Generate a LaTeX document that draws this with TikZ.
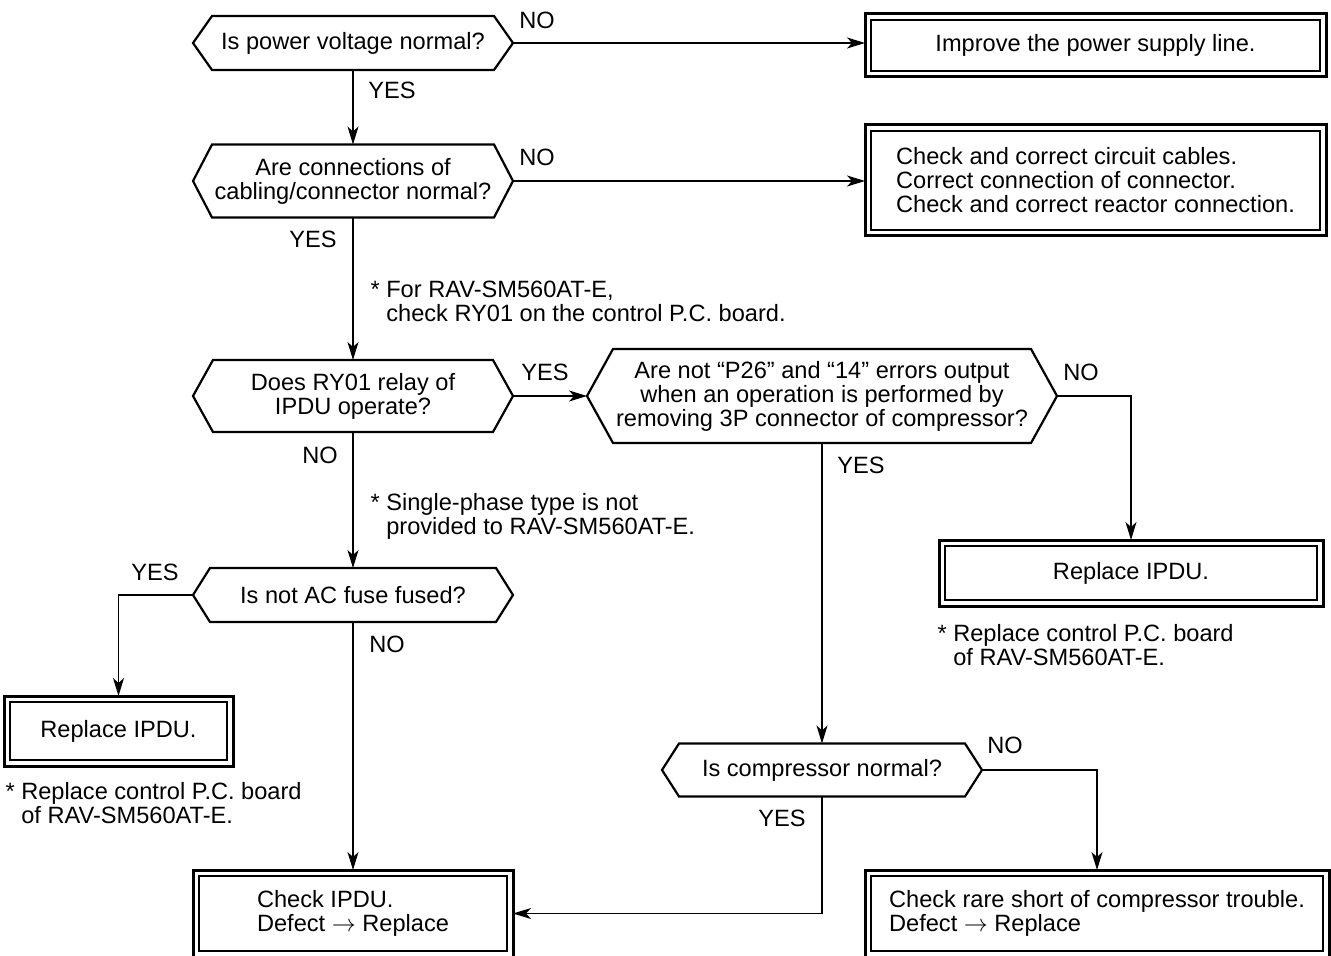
\documentclass[tikz,border=0pt]{standalone}
\usepackage{fontspec}
\setmainfont{Liberation Sans}
\setsansfont{Liberation Sans}
\usetikzlibrary{arrows.meta, calc}
\tikzset{
  every picture/.style={font=\sffamily\fontsize{11.8pt}{12pt}\selectfont, line width=0.6pt},
  dec/.style={inner sep=0pt, outer sep=0pt, align=center},
  act/.style={draw, line width=1.5pt, inner sep=0pt, outer sep=0pt, align=left},
  arrow/.style={-{Stealth[length=9pt, width=5.5pt, inset=2.5pt]}, line width=0.6pt},
  yn/.style={inner sep=0pt},
  note/.style={inner sep=0pt, anchor=west, align=left},
}

\begin{document}
\begin{tikzpicture}[x=0.5pt, y=-0.5pt]
  \useasboundingbox (0,0) rectangle (1331,956);
  % ---------- decisions ----------
  \node[dec, minimum width=160pt, minimum height=27pt] (d1) at (353,43) {Is power voltage normal?};
  \node[dec, minimum width=160pt, minimum height=36.5pt] (d2) at (353,181) {Are connections of\\cabling/connector normal?};
  \node[dec, minimum width=160pt, minimum height=36pt] (d3) at (353,396) {Does RY01 relay of\\IPDU operate?};
  \node[dec, minimum width=235pt, minimum height=47pt] (d4) at (822,396) {Are not ``P26'' and ``14'' errors output\\when an operation is performed by\\removing 3P connector of compressor?};
  \node[dec, minimum width=160pt, minimum height=27pt] (d5) at (353,595) {Is not AC fuse fused?};
  \node[dec, minimum width=160pt, minimum height=26.5pt] (d6) at (822,770) {Is compressor normal?};
  \foreach \d/\s in {d1/9.5pt, d2/9.5pt, d3/10pt, d4/13pt, d5/8.5pt, d6/8.5pt}
    \draw[line width=1.1pt] (\d.west) -- ([xshift=\s]\d.north west) -- ([xshift=-\s]\d.north east)
      -- (\d.east) -- ([xshift=-\s]\d.south east) -- ([xshift=\s]\d.south west) -- cycle;
  % ---------- actions ----------
  \node[act, minimum width=230.5pt, minimum height=31.5pt] (fix1) at (1095.5,45.5) {Improve the power supply line.};
  \node[act, minimum width=230.5pt, minimum height=55.5pt] (fix2) at (1095.5,180.5) {Check and correct circuit cables.\\Correct connection of connector.\\Check and correct reactor connection.};
  \node[act, minimum width=192pt, minimum height=33pt] (fix3) at (1131,573) {Replace IPDU.};
  \node[act, minimum width=114.5pt, minimum height=35pt] (fix4) at (118.5,731) {Replace IPDU.};
  \node[act, minimum width=160pt, minimum height=43.5pt] (fix5) at (353,913.5) {Check IPDU.\\Defect $\rightarrow$ Replace};
  \node[act, minimum width=232pt, minimum height=43.5pt] (fix6) at (1097,913.5) {Check rare short of compressor trouble.\\Defect $\rightarrow$ Replace};
  \foreach \b in {fix1,fix2,fix3,fix4,fix5,fix6}
    \draw[line width=0.6pt] ([shift={(3pt,-3pt)}]\b.north west) rectangle ([shift={(-3pt,3pt)}]\b.south east);
  % ---------- connectors ----------
  \draw[arrow] (d1.south) -- (d2.north);
  \draw[arrow] (d1.east) -- (d1.east -| fix1.west);
  \draw[arrow] (d2.east) -- (d2.east -| fix2.west);
  \draw[arrow] (d2.south) -- (d3.north);
  \draw[arrow] (d3.east) -- (d4.west);
  \draw[arrow] (d4.east) -| (fix3.north);
  \draw[arrow] (d4.south) -- (d6.north);
  \draw[arrow] (d3.south) -- (d5.north);
  \draw[arrow] (d5.west) -| (fix4.north);
  \draw[arrow] (d5.south) -- (fix5.north);
  \draw[arrow] (d6.south) |- (fix5.east);
  \draw[arrow] (d6.east) -| (fix6.north);
  % ---------- labels ----------
  \node[yn] (l1) at (537,20) {NO};
  \node[yn] (l2) at (392,90) {YES};
  \node[yn] (l3) at (537,157) {NO};
  \node[yn] (l4) at (313,239) {YES};
  \node[yn] (l5) at (545,372) {YES};
  \node[yn] (l6) at (320,455) {NO};
  \node[yn] (l7) at (1081,372) {NO};
  \node[yn] (l8) at (861,465) {YES};
  \node[yn] (l9) at (155,572) {YES};
  \node[yn] (l10) at (387,644) {NO};
  \node[yn] (l11) at (1005,745) {NO};
  \node[yn] (l12) at (782,818) {YES};
  % ---------- notes ----------
  \node[note] (n1) at (370,301) {*~For RAV-SM560AT-E,\\\hphantom{*~}check RY01 on the control P.C. board.};
  \node[note] (n2) at (370,516) {*~Single-phase type is not\\\hphantom{*~}provided to RAV-SM560AT-E.};
  \node[note] (n3) at (937,645) {*~Replace control P.C. board\\\hphantom{*~}of RAV-SM560AT-E.};
  \node[note] (n4) at (5,803) {*~Replace control P.C. board\\\hphantom{*~}of RAV-SM560AT-E.};
\end{tikzpicture}
\end{document}
